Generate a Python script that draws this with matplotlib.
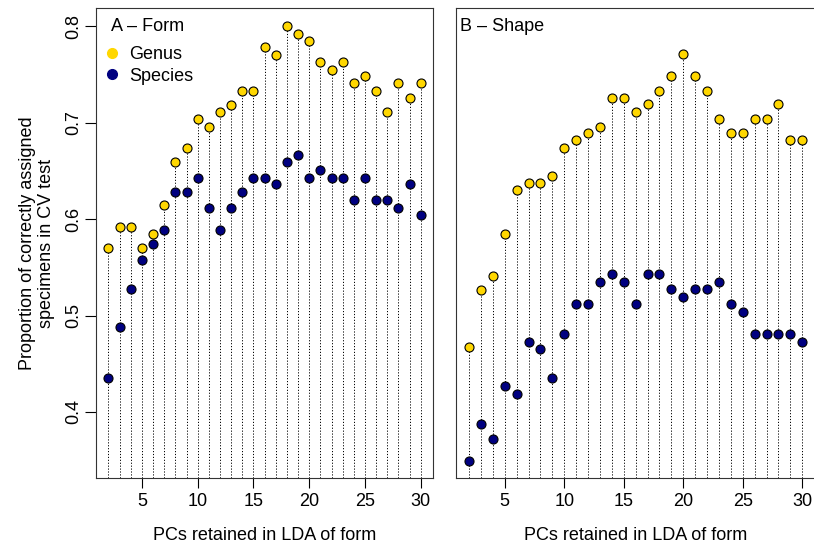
import matplotlib
matplotlib.use("Agg")
import matplotlib.pyplot as plt
from matplotlib.lines import Line2D

plt.rcParams['font.family'] = ['Liberation Sans', 'DejaVu Sans']
FS = 13
plt.rcParams['font.size'] = FS

pcs = list(range(2, 31))

form_genus = [0.570, 0.592, 0.592, 0.570, 0.585, 0.615, 0.659, 0.674, 0.704, 0.696,
              0.711, 0.718, 0.733, 0.733, 0.778, 0.770, 0.800, 0.792, 0.785, 0.763,
              0.755, 0.763, 0.741, 0.748, 0.733, 0.711, 0.741, 0.726, 0.741]
form_species = [0.435, 0.488, 0.527, 0.558, 0.574, 0.589, 0.628, 0.628, 0.643, 0.612,
                0.589, 0.612, 0.628, 0.643, 0.643, 0.636, 0.659, 0.666, 0.643, 0.651,
                0.643, 0.643, 0.620, 0.643, 0.620, 0.620, 0.612, 0.636, 0.604]
shape_genus = [0.467, 0.526, 0.541, 0.585, 0.630, 0.637, 0.637, 0.645, 0.674, 0.682,
               0.689, 0.696, 0.726, 0.726, 0.711, 0.719, 0.733, 0.748, 0.771, 0.748,
               0.733, 0.704, 0.689, 0.689, 0.704, 0.704, 0.719, 0.682, 0.682]
shape_species = [0.349, 0.388, 0.372, 0.427, 0.419, 0.473, 0.465, 0.435, 0.481, 0.512,
                 0.512, 0.535, 0.543, 0.535, 0.512, 0.543, 0.543, 0.527, 0.519, 0.527,
                 0.527, 0.535, 0.512, 0.504, 0.481, 0.481, 0.481, 0.481, 0.473]

panel_titles = ["A \u2013 Form", "B \u2013 Shape"]
legend_labels = ["Genus", "Species"]
x_ticks = [5, 10, 15, 20, 25, 30]
y_ticks = [0.4, 0.5, 0.6, 0.7, 0.8]
xlabel = "PCs retained in LDA of form"
ylabel = "Proportion of correctly assigned\nspecimens in CV test"

GOLD = "#FFD700"
NAVY = "#000080"

W, H = 814, 544
fig = plt.figure(figsize=(W / 100, H / 100), dpi=100)

def px_axes(l, r, t, b):
    return fig.add_axes([l / W, 1 - b / H, (r - l) / W, (b - t) / H])

axA = px_axes(96, 433.3, 8.3, 477.7)
axB = px_axes(455.7, 815.6, 8.3, 477.7)

ylim = (0.3318, 0.8186)
xlim = (0.88, 31.12)

for ax, g, s, title in [(axA, form_genus, form_species, panel_titles[0]),
                        (axB, shape_genus, shape_species, panel_titles[1])]:
    ax.set_xlim(*xlim)
    ax.set_ylim(*ylim)
    ax.vlines(pcs, ylim[0] - 0.1, g, colors="black", linestyles=(0, (1.2, 1.8)),
              linewidth=0.7, zorder=1)
    ax.plot(pcs, s, linestyle="none", marker="o", markersize=6.5,
            markerfacecolor=NAVY, markeredgecolor="black", markeredgewidth=0.8, zorder=3)
    ax.plot(pcs, g, linestyle="none", marker="o", markersize=6.5,
            markerfacecolor=GOLD, markeredgecolor="black", markeredgewidth=0.8, zorder=3)
    ax.set_xticks(x_ticks)
    ax.set_xticklabels([str(t) for t in x_ticks])
    ax.tick_params(axis="x", length=7, width=0.8, pad=4, labelsize=FS)
    ax.set_xlabel(xlabel, fontsize=FS, labelpad=12)
    for sp in ax.spines.values():
        sp.set_linewidth(0.8)
        sp.set_color("#333333")
    ax.text(0.0445 if ax is axA else 0.012, 0.962, title, transform=ax.transAxes,
            ha="left", va="center", fontsize=FS)

axA.set_yticks(y_ticks)
axA.set_yticklabels([f"{v:.1f}" for v in y_ticks], rotation=90, va="center")
axA.tick_params(axis="y", length=8, width=0.8, pad=2, labelsize=FS)
axA.set_ylabel(ylabel, fontsize=FS, labelpad=7, linespacing=1.2)

axB.set_yticks([])
axB.spines["right"].set_visible(False)

handles = [Line2D([], [], linestyle="none", marker="o", markersize=7,
                  markerfacecolor=GOLD, markeredgecolor=GOLD),
           Line2D([], [], linestyle="none", marker="o", markersize=7,
                  markerfacecolor=NAVY, markeredgecolor=NAVY)]
axA.legend(handles, legend_labels, loc="center left",
           bbox_to_anchor=((104 - 96) / 337.3, 1 - (65.5 - 8.3) / 469.4),
           frameon=False, borderpad=0, borderaxespad=0, handlelength=0.9,
           handletextpad=0.5, labelspacing=0.25, fontsize=FS)

fig.savefig("out.png", dpi=100)
